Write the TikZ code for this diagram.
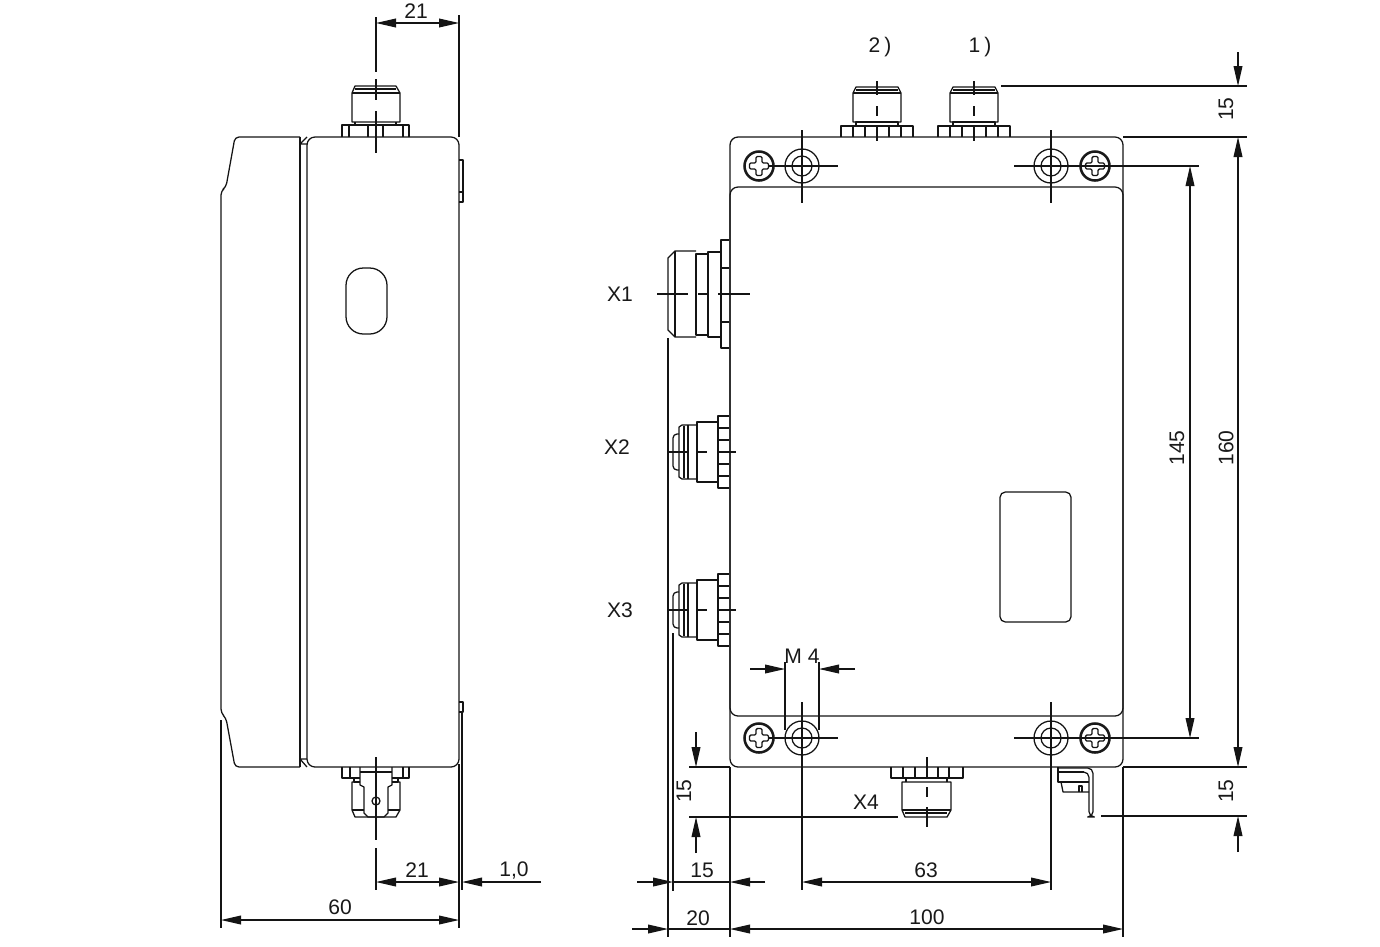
\documentclass[tikz,border=0pt]{standalone}
\usepackage{fontspec}
\setmainfont{Liberation Sans}
\usetikzlibrary{arrows.meta}
\tikzset{
  ln/.style={line width=0.95pt,draw=black!92,line join=round},
  thin line/.style={line width=0.85pt,draw=black!92},
  heavy/.style={line width=1.9pt,draw=black!90},
  oneway/.style={thin line,-{Triangle[length=15pt,width=6.6pt]}},
  twoway/.style={thin line,{Triangle[length=15pt,width=6.6pt]}-{Triangle[length=15pt,width=6.6pt]}},
  lab/.style={inner sep=0pt,text=black!90,font=\fontsize{15.8}{19}\selectfont},
  vlab/.style={lab,rotate=90}
}
\newcommand{\screwhead}[2]{%
  \draw[heavy] (#1,#2) circle[radius=14.5];
  \draw[ln,shift={(#1,#2)},rounded corners=1pt] (-3,-3) -- (-3,-9.5) -- (3,-9.5) -- (3,-3) -- (9.5,-3) -- (9.5,3) -- (3,3) -- (3,9.5) -- (-3,9.5) -- (-3,3) -- (-9.5,3) -- (-9.5,-3) -- cycle;
}
\newcommand{\washerring}[2]{%
  \draw[ln] (#1,#2) circle[radius=17];
  \draw[ln] (#1,#2) circle[radius=10];
}
% top connector: #1 centre x
\newcommand{\topconn}[1]{%
  \begin{scope}[shift={(#1,0)}]
    \draw[ln] (-36,137) -- (-36,126) -- (36,126) -- (36,137);
    \foreach \v in {-24,-12,12,24} \draw[ln] (\v,126) -- (\v,137);
    \draw[ln] (-21,126) -- (-21,122) -- (21,122) -- (21,126);
    \draw[ln] (-24,122) -- (-24,93) -- (-21,87) -- (21,87) -- (24,93) -- (24,122) -- cycle;
    \draw[ln] (-21,90) -- (21,90);
    \draw[ln] (-24,93) -- (24,93);
    \draw[thin line] (0,81) -- (0,95) (0,106) -- (0,116) (0,127) -- (0,141);
  \end{scope}
}
% side connector X2/X3: #1 centre y
\newcommand{\sideconn}[1]{%
  \begin{scope}[shift={(0,#1)}]
    \draw[ln] (729,-36) -- (718,-36) -- (718,36) -- (729,36);
    \foreach \v in {-24,-12,12,24} \draw[ln] (718,\v) -- (729,\v);
    \draw[ln] (718,-30) -- (697,-30) -- (697,30) -- (718,30);
    \draw[ln] (697,-27) -- (682,-27) -- (679,-25) -- (679,25) -- (682,27) -- (697,27);
    \draw[ln] (684,-26) -- (684,26) (688,-27) -- (688,27);
    \draw[ln,rounded corners=3pt] (679,-18) -- (673,-18) -- (673,18) -- (679,18);
    \draw[thin line] (667,0) -- (687,0) (697,0) -- (707,0) (717,0) -- (736,0);
  \end{scope}
}
\begin{document}
\begin{tikzpicture}[x=0.75pt,y=-0.75pt]
\useasboundingbox (0,0) rectangle (1380,946);
% ---------- side view ----------
% cover
\draw[ln,rounded corners=3pt] (300,137) -- (235,137) -- (226,187) -- (221,191) -- (221,713) -- (226,718) -- (235,767) -- (300,767);
\draw[ln] (300,137) -- (300,767);
\draw[ln] (300,144) -- (307,137) (300,144) -- (307,144);
\draw[ln] (300,759) -- (307,767) (300,759) -- (307,759);
% body
\draw[ln,rounded corners=6pt] (307,767) -- (307,137) -- (459,137) -- (459,767) -- cycle;
% brackets
\draw[ln] (459,160) -- (463,160) -- (463,202) -- (459,202) (459,192) -- (463,192);
\draw[ln] (459,702) -- (463,702) -- (463,712) -- (459,712);
\draw[ln] (462,712) -- (462,890);
% window
\draw[ln,rounded corners=13pt] (346,268) rectangle (387,334);
% top connector
\draw[ln] (342,137) -- (342,125) -- (409,125) -- (409,137);
\foreach \v in {349,368,383,403} \draw[ln] (\v,125) -- (\v,137);
\draw[ln] (355,125) -- (355,122) (396,122) -- (396,125);
\draw[ln] (352,122) -- (352,93) -- (355,86) -- (396,86) -- (400,93) -- (400,122) -- cycle;
\draw[ln] (355,89) -- (396,89) (352,93) -- (400,93);
\draw[thin line] (376,17) -- (376,72) (376,79) -- (376,100) (376,111) -- (376,153);
% bottom connector
\draw[ln] (342,767) -- (342,778) -- (360,778) (392,778) -- (409,778) -- (409,767);
\draw[ln] (350,767) -- (350,778);
\draw[ln] (403,767) -- (403,778);
\draw[ln] (360,767) -- (360,785) -- (364,787) -- (364,813) -- (368,817) -- (384,817) -- (388,813) -- (388,787) -- (392,785) -- (392,767);
\draw[ln] (360,772) -- (392,772);
\draw[ln] (354,778) -- (354,782) -- (360,782) (398,778) -- (398,782) -- (392,782);
\draw[ln] (360,782) -- (352,782) -- (352,810) -- (355,817) -- (396,817) -- (400,810) -- (400,782) -- (392,782);
\draw[ln] (352,810) -- (364,810) (388,810) -- (400,810);
\draw[ln] (376,801) circle[radius=4];
\draw[thin line] (376,757) -- (376,840) (376,848) -- (376,890);
% side view dimensions
\draw[thin line] (459,15) -- (459,137);
\draw[thin line] (459,764) -- (459,928);
\draw[thin line] (221,720) -- (221,928);
\draw[twoway] (376,23) -- (459,23);
\draw[twoway] (376,882) -- (459,882);
\draw[oneway] (541,882) -- (462,882);
\draw[twoway] (221,920) -- (459,920);
\node[lab] (d21a) at (416,11) {21};
\node[lab] (d21b) at (417,870) {21};
\node[lab] (d10) at (514,870) {1,0};
\node[lab] (d60) at (340,907) {60};
% ---------- front view ----------
\draw[ln,rounded corners=6pt] (730,137) rectangle (1123,767);
\draw[ln,rounded corners=6pt] (730,187) rectangle (1123,716);
\draw[ln,rounded corners=4pt] (1000,492) rectangle (1071,622);
% fixing points
\screwhead{759}{166}
\screwhead{1095}{166}
\screwhead{759}{738}
\screwhead{1095}{738}
\washerring{802}{166}
\washerring{1051}{166}
\washerring{802}{738}
\washerring{1051}{738}
\draw[thin line] (802,130) -- (802,203) (768,166) -- (838,166);
\draw[thin line] (1051,130) -- (1051,203) (1014,166) -- (1199,166);
\draw[thin line] (802,702) -- (802,890) (768,738) -- (838,738);
\draw[thin line] (1051,702) -- (1051,890) (1014,738) -- (1199,738);
% connectors
\topconn{877}
\topconn{974}
\sideconn{452}
\sideconn{610}
% X1
\draw[ln] (729,240) -- (721,240) -- (721,348) -- (729,348);
\draw[ln] (721,268) -- (729,268) (721,322) -- (729,322);
\draw[ln] (721,252) -- (708,252) -- (708,337) -- (721,337);
\draw[ln] (708,254) -- (696,254) -- (696,335) -- (708,335);
\draw[ln] (696,251) -- (675,251) -- (668,258) -- (668,330) -- (675,337) -- (696,337);
\draw[ln] (675,251) -- (675,337);
\draw[thin line] (657,294) -- (688,294) (698,294) -- (708,294) (718,294) -- (750,294);
% X4
\draw[ln] (891,767) -- (891,778) -- (963,778) -- (963,767);
\foreach \v in {903,915,938,949} \draw[ln] (\v,767) -- (\v,778);
\draw[ln] (906,778) -- (906,782) (947,782) -- (947,778);
\draw[ln] (902,782) -- (951,782) -- (951,810) -- (947,817) -- (905,817) -- (902,810) -- cycle;
\draw[ln] (905,813) -- (947,813) (902,810) -- (951,810);
\draw[thin line] (927,757) -- (927,777) (927,787) -- (927,797) (927,807) -- (927,827);
% earth bracket
\draw[ln] (1058,767) -- (1058,782) -- (1089,782);
\draw[ln] (1058,772) -- (1084,772);
\draw[ln,rounded corners=4pt] (1058,768) -- (1093,768) -- (1093,817) -- (1089,817) -- (1089,772) -- (1084,772);
\draw[ln] (1061,782) -- (1063,792) -- (1089,792);
\draw[ln] (1079,792) -- (1079,786) -- (1082,786) -- (1082,792);
% front view extension lines
\draw[thin line] (668,338) -- (668,937);
\draw[thin line] (673,633) -- (673,891);
\draw[thin line] (730,767) -- (730,937);
\draw[thin line] (1123,767) -- (1123,937);
\draw[thin line] (785,662) -- (785,730) (819,662) -- (819,730);
\draw[thin line] (1001,86) -- (1247,86);
\draw[thin line] (1123,137) -- (1247,137);
\draw[thin line] (1123,767) -- (1247,767);
\draw[thin line] (1101,816) -- (1247,816);
\draw[thin line] (689,767) -- (730,767);
\draw[thin line] (689,817) -- (898,817);
% front view dimensions
\draw[oneway] (1238,52) -- (1238,86);
\draw[twoway] (1238,137) -- (1238,767);
\draw[oneway] (1238,852) -- (1238,816);
\draw[twoway] (1190,166) -- (1190,738);
\draw[oneway] (696,732) -- (696,767);
\draw[oneway] (696,853) -- (696,817);
\draw[oneway] (750,669) -- (785,669);
\draw[oneway] (855,669) -- (819,669);
\draw[oneway] (637,882) -- (673,882);
\draw[oneway] (765,882) -- (730,882);
\draw[thin line] (673,882) -- (730,882);
\draw[twoway] (802,882) -- (1051,882);
\draw[oneway] (632,929) -- (668,929);
\draw[thin line] (668,929) -- (730,929);
\draw[twoway] (730,929) -- (1123,929);
% front view labels
\node[lab] (n2) at (880,47) {2\kern3pt)};
\node[lab] (n1) at (980,47) {1\kern3pt)};
\node[lab] (x1) at (620,294) {X1};
\node[lab] (x2) at (617,447) {X2};
\node[lab] (x3) at (620,610) {X3};
\node[lab] (x4) at (866,802) {X4};
\node[lab] (m4) at (802,656) {M 4};
\node[vlab] (d15a) at (1226,109) {15};
\node[vlab] (d160) at (1226,448) {160};
\node[vlab] (d145) at (1177,448) {145};
\node[vlab] (d15b) at (1226,791) {15};
\node[vlab] (d15c) at (684,791) {15};
\node[lab] (d15d) at (702,870) {15};
\node[lab] (d20) at (698,918) {20};
\node[lab] (d63) at (926,870) {63};
\node[lab] (d100) at (927,917) {100};
\end{tikzpicture}
\end{document}
